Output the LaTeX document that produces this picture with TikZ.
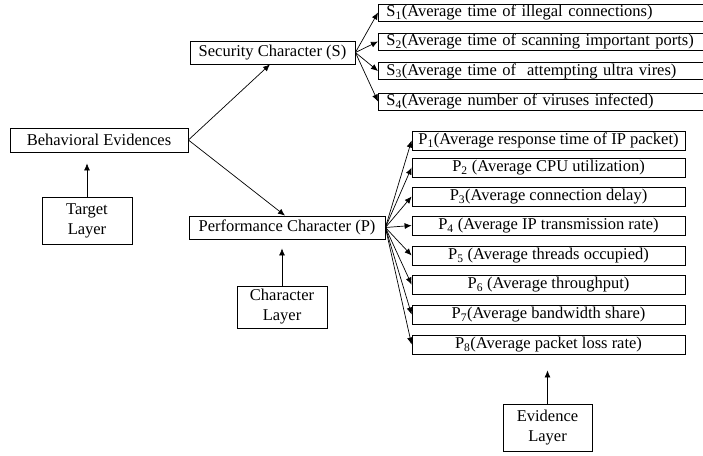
\documentclass[tikz,border=0pt]{standalone}
\usepackage{fontspec}
\setmainfont{Liberation Serif}
\usetikzlibrary{arrows.meta}
\tikzset{
  box/.style={draw=black, line width=0.8pt, inner sep=0pt, font=\fontsize{16.5}{20}\selectfont},
  sbox/.style={box, minimum height=17pt, text width=318pt, inner xsep=8pt, align=left, anchor=west},
  pbox/.style={box, minimum width=273pt, minimum height=19pt},
  layerbox/.style={box, align=center},
  arr/.style={draw=black, line width=0.7pt, -{Latex[length=7pt,width=6pt]}},
}
\begin{document}
\begin{tikzpicture}[x=1pt,y=-1pt]
\clip (0,0) rectangle (703,455);
\fill[white] (0,0) rectangle (703,455);

\node[box, minimum width=178pt, minimum height=24pt] (BE) at (99,140) {Behavioral Evidences};
\node[box, minimum width=165pt, minimum height=23pt] (SC) at (272.5,52.5) {Security Character (S)};
\node[box, minimum width=196pt, minimum height=23pt] (PC) at (287,227.5) {Performance Character (P)};

\node[layerbox, minimum width=90pt, minimum height=47pt] (TL) at (87,220.5) {Target\\Layer};
\node[layerbox, minimum width=90pt, minimum height=42pt] (CL) at (282,307) {Character\\Layer};
\node[layerbox, minimum width=89pt, minimum height=47pt] (EL) at (547.5,427.5) {Evidence\\Layer};

\node[sbox] (S1) at (378,12.5) {S\textsubscript{1}(Average time of illegal connections)};
\node[sbox] (S2) at (378,41.5) {S\textsubscript{2}(Average time of scanning important ports)};
\node[sbox] (S3) at (378,71) {S\textsubscript{3}(Average time of \ attempting ultra vires)};
\node[sbox] (S4) at (378,101.5) {S\textsubscript{4}(Average number of viruses infected)};

\node[pbox] (P1) at (548.5,140.5) {P\textsubscript{1}(Average response time of IP packet)};
\node[pbox] (P2) at (548.5,167.5) {P\textsubscript{2} (Average CPU utilization)};
\node[pbox] (P3) at (548.5,196.5) {P\textsubscript{3}(Average connection delay)};
\node[pbox] (P4) at (548.5,225.5) {P\textsubscript{4} (Average IP transmission rate)};
\node[pbox] (P5) at (548.5,255.5) {P\textsubscript{5} (Average threads occupied)};
\node[pbox] (P6) at (548.5,284.5) {P\textsubscript{6} (Average throughput)};
\node[pbox] (P7) at (548.5,314.5) {P\textsubscript{7}(Average bandwidth share)};
\node[pbox] (P8) at (548.5,344.5) {P\textsubscript{8}(Average packet loss rate)};

\draw[arr] (BE.east) -- ([xshift=-2.5pt]SC.south);
\draw[arr] (BE.east) -- ([xshift=-2pt]PC.north);

\draw[arr, shorten >=11pt] (TL.north) -- (TL.north |- BE.south);
\draw[arr, shorten >=9pt] (CL.north) -- (CL.north |- PC.south);
\draw[arr, shorten >=16pt] (EL.north) -- (EL.north |- P8.south);

\foreach \s in {S1,S2,S3,S4} \draw[arr] (SC.east) -- (\s.west);
\foreach \p in {P1,P2,P3,P4,P5,P6,P7,P8} \draw[arr] (PC.east) -- (\p.west);
\end{tikzpicture}
\end{document}
